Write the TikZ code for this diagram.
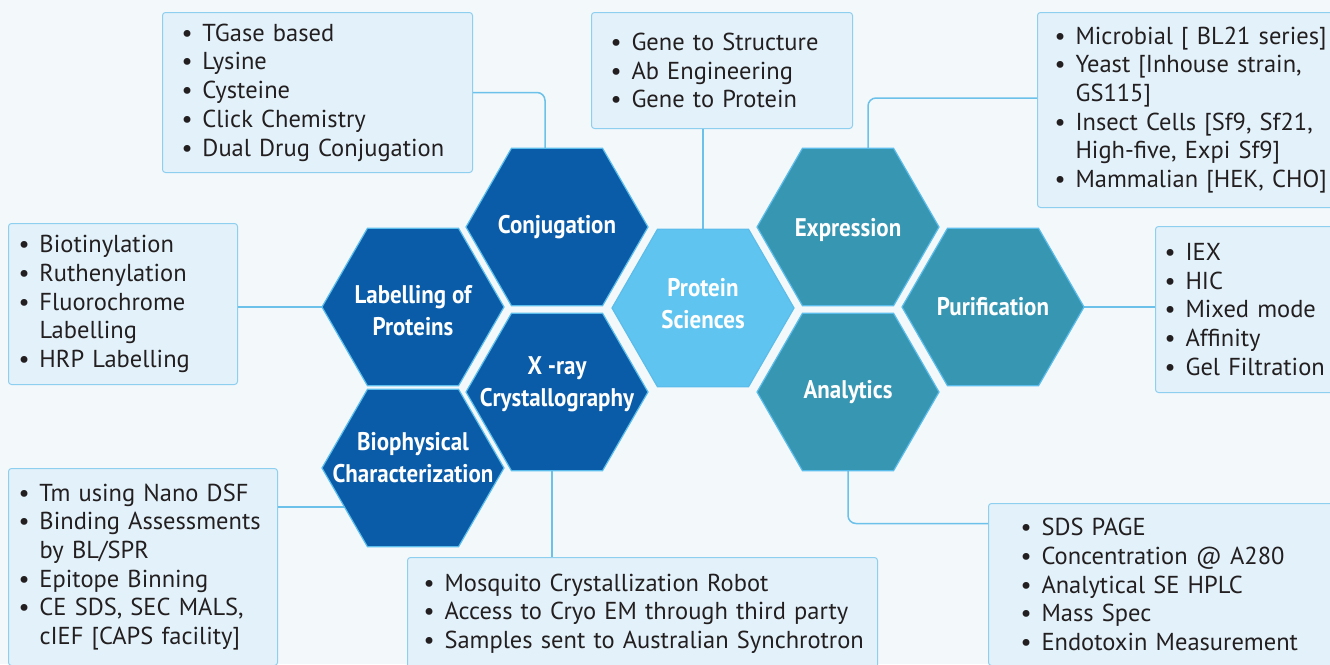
\documentclass[tikz,border=0pt]{standalone}
\usepackage{fontspec}
\setmainfont{PT Sans}
\newfontfamily\hexfont[FakeStretch=0.9]{PT Sans Bold}
\usetikzlibrary{shapes.geometric}
\definecolor{bgblue}{HTML}{F3F8FB}
\definecolor{darkhex}{HTML}{0A5CA8}
\definecolor{tealhex}{HTML}{3796B2}
\definecolor{lighthex}{HTML}{5FC4EF}
\definecolor{hexline}{HTML}{5BBDEB}
\definecolor{boxfill}{HTML}{E3F2FA}
\definecolor{boxline}{HTML}{8ECFEF}
\definecolor{linkblue}{HTML}{6BC1E9}
\definecolor{inktext}{HTML}{231F20}
% one bullet line, and one run-on line, never broken
\newcommand\itm[1]{\mbox{\makebox[21pt][l]{\textbullet}#1}}
\newcommand\cnt[1]{\mbox{\hspace*{21pt}#1}}

\begin{document}
\begin{tikzpicture}[
    x=1pt, y=-1pt,
    hexa/.style={regular polygon, regular polygon sides=6, minimum size=182pt,
        inner sep=0pt, draw=hexline, line width=1.2pt},
    hexlabel/.style={text=white, align=center,
        font=\hexfont\fontsize{25.5}{32}\selectfont},
    infobox/.style={draw=boxline, fill=boxfill, rounded corners=3pt, line width=1pt,
        anchor=north west, align=left, inner ysep=0pt, text=inktext,
        font=\fontsize{24.5}{28.7}\selectfont},
    link/.style={draw=linkblue, line width=1.5pt, rounded corners=8pt}]

    \useasboundingbox (0,0) rectangle (1330,664);
    \fill[bgblue] (0,0) rectangle (1330,664);

    % boxes
    \node[infobox, inner xsep=19pt, text width=272pt, minimum height=160pt] (conjbox) at (162,12)
        {\itm{TGase based}\\ \itm{Lysine}\\ \itm{Cysteine}\\ \itm{Click Chemistry}\\ \itm{Dual Drug Conjugation}};
    \node[infobox, inner xsep=19pt, text width=223pt, minimum height=116pt] (genebox) at (591,12)
        {\itm{Gene to Structure}\\ \itm{Ab Engineering}\\ \itm{Gene to Protein}\\[6pt]};
    \node[infobox, inner xsep=17pt, text width=266pt, minimum height=195pt] (exprbox) at (1037,12)
        {\itm{Microbial [ BL21 series]}\\ \itm{Yeast [Inhouse strain,}\\ \cnt{GS115]}\\
         \itm{Insect Cells [Sf9, Sf21,}\\ \cnt{High-five, Expi Sf9]}\\ \itm{Mammalian [HEK, CHO]}};
    \node[infobox, inner xsep=10pt, text width=209pt, minimum height=161pt] (labbox) at (8,223)
        {\itm{Biotinylation}\\ \itm{Ruthenylation}\\ \itm{Fluorochrome}\\ \cnt{Labelling}\\ \itm{HRP Labelling}};
    \node[infobox, inner xsep=9pt, text width=170pt, minimum height=166pt] (purbox) at (1155,226)
        {\itm{IEX}\\ \itm{HIC}\\ \itm{Mixed mode}\\ \itm{Affinity}\\ \itm{Gel Filtration}};
    \node[infobox, inner xsep=10pt, text width=249pt, minimum height=197pt] (biobox) at (8,468)
        {\itm{Tm using Nano DSF}\\ \itm{Binding Assessments}\\ \cnt{by BL/SPR}\\ \itm{Epitope Binning}\\
         \itm{CE SDS, SEC MALS,}\\ \cnt{cIEF [CAPS facility]}};
    \node[infobox, inner xsep=16pt, text width=438pt, minimum height=112pt] (xbox) at (407,557)
        {\itm{Mosquito Crystallization Robot}\\ \itm{Access to Cryo EM through third party}\\
         \itm{Samples sent to Australian Synchrotron}};
    \node[infobox, inner xsep=32pt, text width=290pt, minimum height=162pt] (anabox) at (988,503)
        {\itm{SDS PAGE}\\ \itm{Concentration @ A280}\\ \itm{Analytical SE HPLC}\\ \itm{Mass Spec}\\
         \itm{Endotoxin Measurement}};

    % hexagon coordinates
    \coordinate (c-conj) at (557,227);
    \coordinate (c-lab) at (413,307);
    \coordinate (c-xray) at (557,392);
    \coordinate (c-bio) at (413,468);
    \coordinate (c-prot) at (703,308);
    \coordinate (c-expr) at (848,227);
    \coordinate (c-ana) at (848,392);
    \coordinate (c-pur) at (993,307);

    % connectors
    \draw[link] (conjbox.east) -| ([xshift=-12pt]c-conj);
    \draw[link] (c-prot |- genebox.south) -- (c-prot);
    \draw[link] ([yshift=12pt]exprbox.west) -| ([xshift=20pt]c-expr);
    \draw[link] (labbox.east |- c-lab) -- (c-lab);
    \draw[link] (c-pur) -- (c-pur -| purbox.west);
    \draw[link] ([yshift=60pt]biobox.east) -- ++(100,0);
    \draw[link] ([xshift=-5pt]c-xray) -- ([xshift=-5pt]c-xray |- xbox.north);
    \draw[link] (c-ana) |- ([yshift=61pt]anabox.west);

    % hexagons
    \node[hexa, fill=darkhex, label={[hexlabel]center:Conjugation}] (conj) at (c-conj) {};
    \node[hexa, fill=darkhex, label={[hexlabel, yshift=-4pt]center:{Labelling of\\Proteins}}] (lab) at (c-lab) {};
    \node[hexa, fill=darkhex, label={[hexlabel, yshift=8pt]center:{X -ray\\Crystallography}}] (xray) at (c-xray) {};
    \node[hexa, fill=darkhex, label={[hexlabel, yshift=10pt]center:{Biophysical\\Characterization}}] (bio) at (c-bio) {};
    \node[hexa, fill=lighthex, label={[hexlabel, yshift=4pt]center:{Protein\\Sciences}}] (prot) at (c-prot) {};
    \node[hexa, fill=tealhex, label={[hexlabel, yshift=-3pt]center:Expression}] (expr) at (c-expr) {};
    \node[hexa, fill=tealhex, label={[hexlabel]center:Analytics}] (ana) at (c-ana) {};
    \node[hexa, fill=tealhex, label={[hexlabel]center:Purification}] (pur) at (c-pur) {};

\end{tikzpicture}
\end{document}
